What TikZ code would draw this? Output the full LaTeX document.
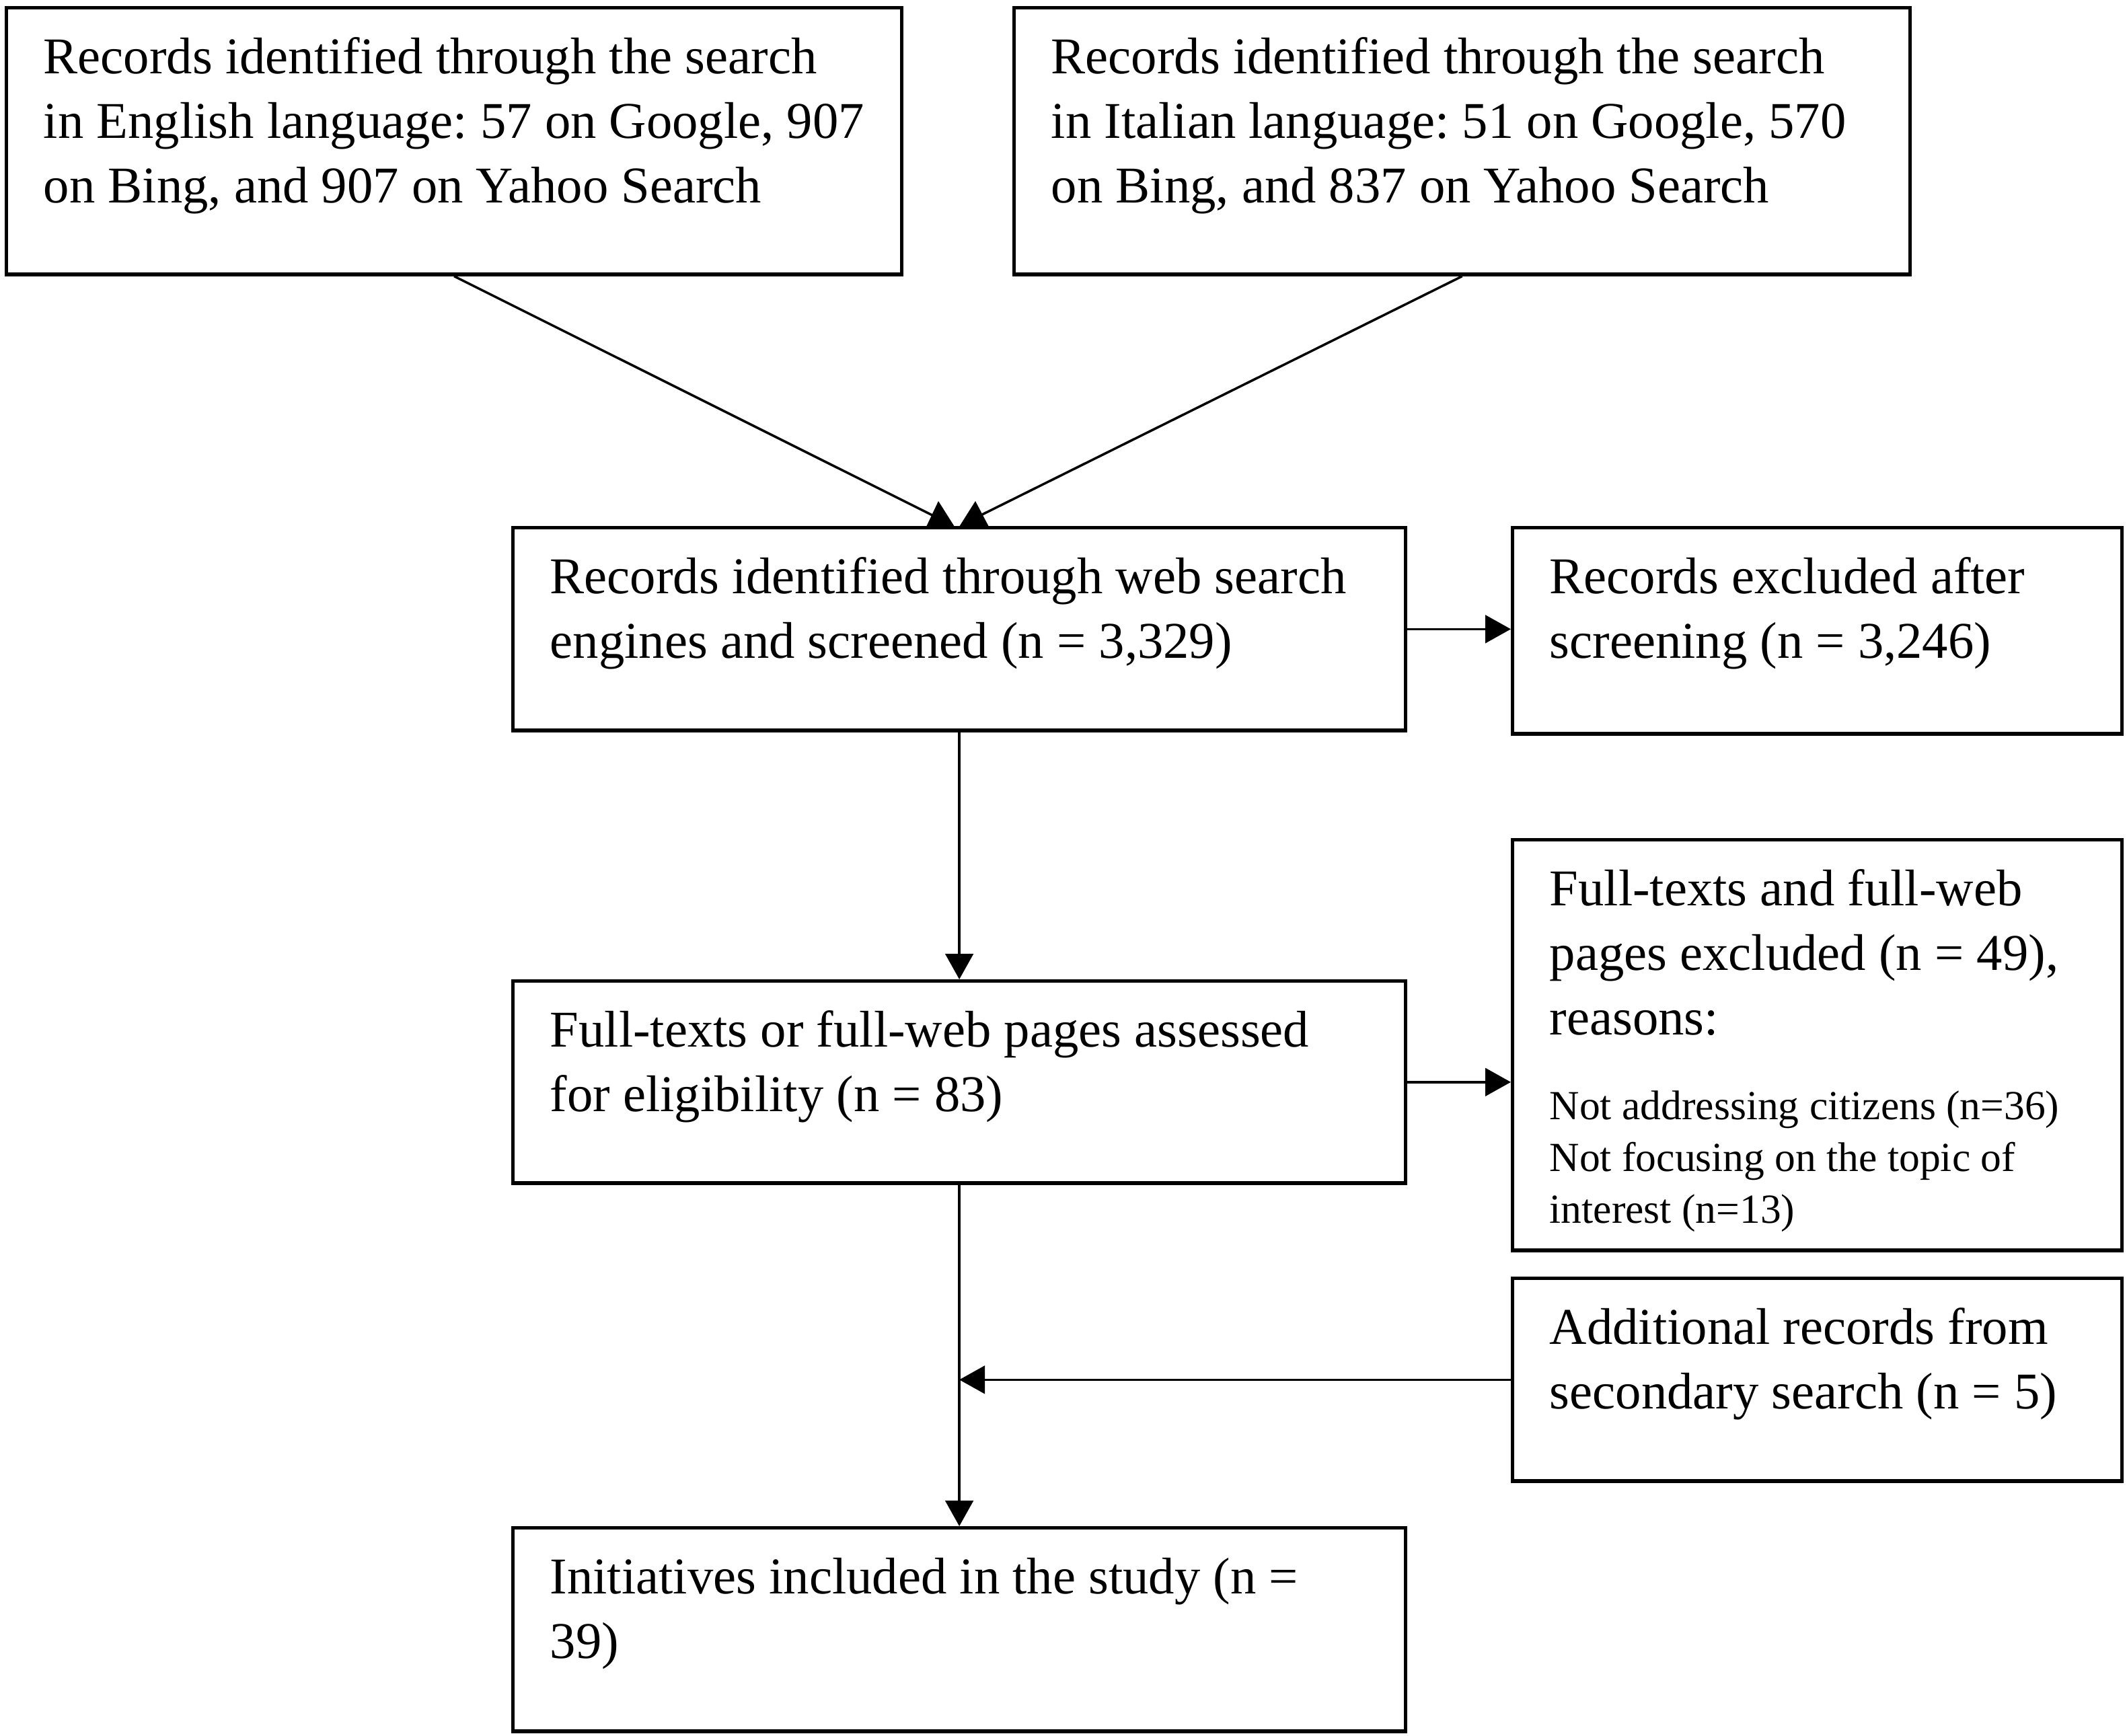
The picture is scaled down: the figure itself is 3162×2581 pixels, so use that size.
\documentclass[tikz,border=0pt]{standalone}
\usepackage{fontspec}
\setmainfont{Liberation Serif}
\usetikzlibrary{arrows.meta}
\setlength{\parskip}{0pt}
\frenchspacing
\newcommand\txl[1]{\mbox{#1}}
\newcommand\boxtext[3]{\parbox[b][#2][t]{#1}{\raggedright\rule{0pt}{27.88pt}#3}}
\newcommand\bigfnt{\fontsize{21.8pt}{27.3pt}\selectfont}
\newcommand\smallfnt{\fontsize{17.5pt}{21.8pt}\selectfont}
\begin{document}
\begin{tikzpicture}[x=0.01cm,y=-0.01cm,
  box/.style={draw=black, line width=1.55pt, anchor=north west, inner xsep=0.55cm, inner ysep=0pt, font=\bigfnt},
  conn/.style={draw=black, line width=1pt},
  arr/.style={conn, -{Triangle[length=10.8pt,width=11.8pt]}},
  tri/.style={fill=black}]
\path[fill=white, use as bounding box] (0,0) rectangle (3162,2581);

\node[box] (b1) at (7,9) {\boxtext{12.20cm}{3.96cm}{\txl{Records identified through the search}\\\txl{in English language: 57 on Google, 907}\\\txl{on Bing, and 907 on Yahoo Search}}};
\node[box] (b2) at (1505,9) {\boxtext{12.21cm}{3.96cm}{\txl{Records identified through the search}\\\txl{in Italian language: 51 on Google, 570}\\\txl{on Bing, and 837 on Yahoo Search}}};
\node[box] (b3) at (760,782) {\boxtext{12.16cm}{3.01cm}{\txl{Records identified through web search}\\\txl{engines and screened (n = 3,329)}}};
\node[box] (b4) at (2246,782) {\boxtext{7.95cm}{3.06cm}{\txl{Records excluded after}\\\txl{screening (n = 3,246)}}};
\node[box] (b5) at (760,1456) {\boxtext{12.16cm}{3.00cm}{\txl{Full-texts or full-web pages assessed}\\\txl{for eligibility (n = 83)}}};
\node[box] (b6) at (2246,1246) {\boxtext{7.95cm}{6.10cm}{\txl{Full-texts and full-web}\\\txl{pages excluded (n = 49),}\\\txl{reasons:}\par\smallfnt\vspace{14pt}\txl{Not addressing citizens (n=36)}\\\txl{Not focusing on the topic of}\\\txl{interest (n=13)}}};
\node[box] (b7) at (2246,1898) {\boxtext{7.95cm}{3.01cm}{\txl{Additional records from}\\\txl{secondary search (n = 5)}}};
\node[box] (b8) at (760,2269) {\boxtext{12.16cm}{3.02cm}{\txl{Initiatives included in the study (n =}\\\txl{39)}}};

\coordinate (t1) at (1398,772);
\coordinate (t2) at (1446,772);
\draw[conn] (b1.south) -- (t1);
\draw[conn] (b2.south) -- (t2);
\fill[tri] (1395,745) -- (1377,783) -- (1419,783) -- cycle;
\fill[tri] (1450,745) -- (1426,783) -- (1470,783) -- cycle;

\draw[arr] (b3.east) -- (b3.east -| b4.west);
\draw[arr] (b3.south) -- (b5.north);
\draw[arr] (b5.east) -- (b5.east -| b6.west);
\draw[arr] (b5.south) -- (b8.north);
\draw[arr] (b7.west) -- (b7.west -| b5.south);
\end{tikzpicture}
\end{document}
